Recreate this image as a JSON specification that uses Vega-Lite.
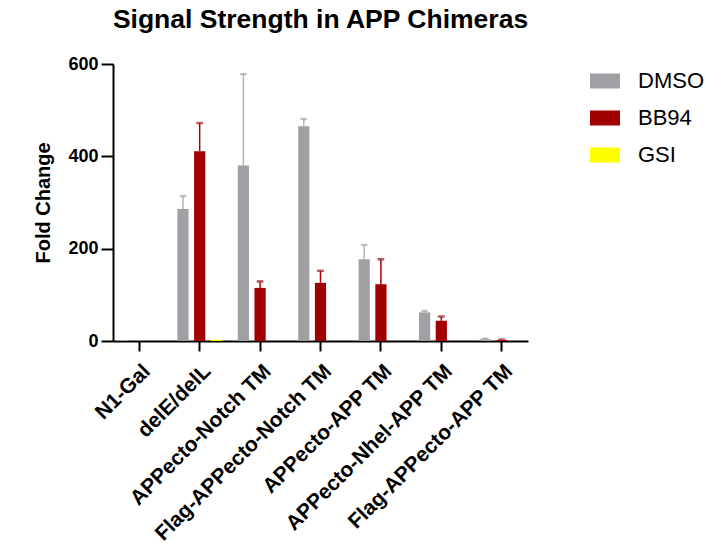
{
  "$schema": "https://vega.github.io/schema/vega-lite/v6.json",
  "width": 415,
  "height": 277,
  "autosize": "none",
  "padding": {"left": 113, "top": 64, "right": 200, "bottom": 202},
  "background": "white",
  "title": {"text": "Signal Strength in APP Chimeras", "font": "Liberation Sans", "fontSize": 26.5, "fontWeight": "bold", "color": "#000", "anchor": "middle", "offset": 22},
  "config": {
    "view": {"stroke": null},
    "axis": {"domainColor": "#000", "domainWidth": 2, "tickColor": "#000", "tickWidth": 2, "labelFont": "Liberation Sans", "labelFontWeight": "bold", "labelColor": "#000", "titleFont": "Liberation Sans", "titleFontWeight": "bold", "titleColor": "#000", "grid": false}
  },
  "data": {"values": [
    {"cat": "N1-Gal", "treat": "DMSO", "value": 2, "upper": null},
    {"cat": "N1-Gal", "treat": "BB94", "value": 0, "upper": null},
    {"cat": "N1-Gal", "treat": "GSI", "value": 0, "upper": null},
    {"cat": "delE/delL", "treat": "DMSO", "value": 286, "upper": 314},
    {"cat": "delE/delL", "treat": "BB94", "value": 411, "upper": 472},
    {"cat": "delE/delL", "treat": "GSI", "value": 3, "upper": null},
    {"cat": "APPecto-Notch TM", "treat": "DMSO", "value": 380, "upper": 578},
    {"cat": "APPecto-Notch TM", "treat": "BB94", "value": 115, "upper": 129},
    {"cat": "APPecto-Notch TM", "treat": "GSI", "value": 0, "upper": null},
    {"cat": "Flag-APPecto-Notch TM", "treat": "DMSO", "value": 465, "upper": 481},
    {"cat": "Flag-APPecto-Notch TM", "treat": "BB94", "value": 126, "upper": 152},
    {"cat": "Flag-APPecto-Notch TM", "treat": "GSI", "value": 0, "upper": null},
    {"cat": "APPecto-APP TM", "treat": "DMSO", "value": 177, "upper": 208},
    {"cat": "APPecto-APP TM", "treat": "BB94", "value": 123, "upper": 177},
    {"cat": "APPecto-APP TM", "treat": "GSI", "value": 0, "upper": null},
    {"cat": "APPecto-Nhel-APP TM", "treat": "DMSO", "value": 62, "upper": 65},
    {"cat": "APPecto-Nhel-APP TM", "treat": "BB94", "value": 44, "upper": 53},
    {"cat": "APPecto-Nhel-APP TM", "treat": "GSI", "value": 0, "upper": null},
    {"cat": "Flag-APPecto-APP TM", "treat": "DMSO", "value": 4, "upper": 5},
    {"cat": "Flag-APPecto-APP TM", "treat": "BB94", "value": 2, "upper": 3},
    {"cat": "Flag-APPecto-APP TM", "treat": "GSI", "value": 0, "upper": null}
  ]},
  "encoding": {
    "x": {"field": "cat", "type": "nominal",
      "sort": ["N1-Gal", "delE/delL", "APPecto-Notch TM", "Flag-APPecto-Notch TM", "APPecto-APP TM", "APPecto-Nhel-APP TM", "Flag-APPecto-APP TM"],
      "scale": {"paddingInner": 0.17, "paddingOuter": 0.02},
      "axis": {"title": null, "labelAngle": -45, "labelFontSize": 21, "labelLimit": 0, "tickSize": 10, "labelPadding": 9}},
    "xOffset": {"field": "treat", "type": "nominal", "sort": ["DMSO", "BB94", "GSI"], "scale": {"paddingInner": 0.33, "paddingOuter": 0.165}}
  },
  "layer": [
    {
      "mark": {"type": "bar"},
      "encoding": {
        "y": {"field": "value", "type": "quantitative", "scale": {"domain": [0, 600]},
          "axis": {"title": "Fold Change", "values": [0, 200, 400, 600], "labelFontSize": 18, "titleFontSize": 20, "tickSize": 12, "labelPadding": 3, "titlePadding": 14}},
        "color": {"field": "treat", "type": "nominal",
          "scale": {"domain": ["DMSO", "BB94", "GSI"], "range": ["#a0a0a4", "#a00000", "#ffff00"]},
          "legend": {"orient": "none", "legendX": 477, "legendY": 2, "title": null, "symbolType": "M-1,-0.5H1V0.5H-1Z", "symbolSize": 900, "symbolStrokeWidth": 0, "labelFontSize": 22, "labelFont": "Liberation Sans", "labelColor": "#000", "rowPadding": 11, "labelOffset": 18}}
      }
    },
    {
      "transform": [{"filter": "datum.upper != null"}],
      "mark": {"type": "rule", "strokeWidth": 1.5},
      "encoding": {
        "y": {"field": "value", "type": "quantitative"},
        "y2": {"field": "upper"},
        "stroke": {"field": "treat", "type": "nominal", "scale": {"domain": ["DMSO", "BB94"], "range": ["#b4b4b8", "#b00000"]}, "legend": null}
      }
    },
    {
      "transform": [{"filter": "datum.upper != null"}],
      "mark": {"type": "tick", "thickness": 1.5, "size": 6},
      "encoding": {
        "y": {"field": "upper", "type": "quantitative"},
        "stroke": {"field": "treat", "type": "nominal", "scale": {"domain": ["DMSO", "BB94"], "range": ["#b4b4b8", "#b00000"]}, "legend": null}
      }
    }
  ]
}
